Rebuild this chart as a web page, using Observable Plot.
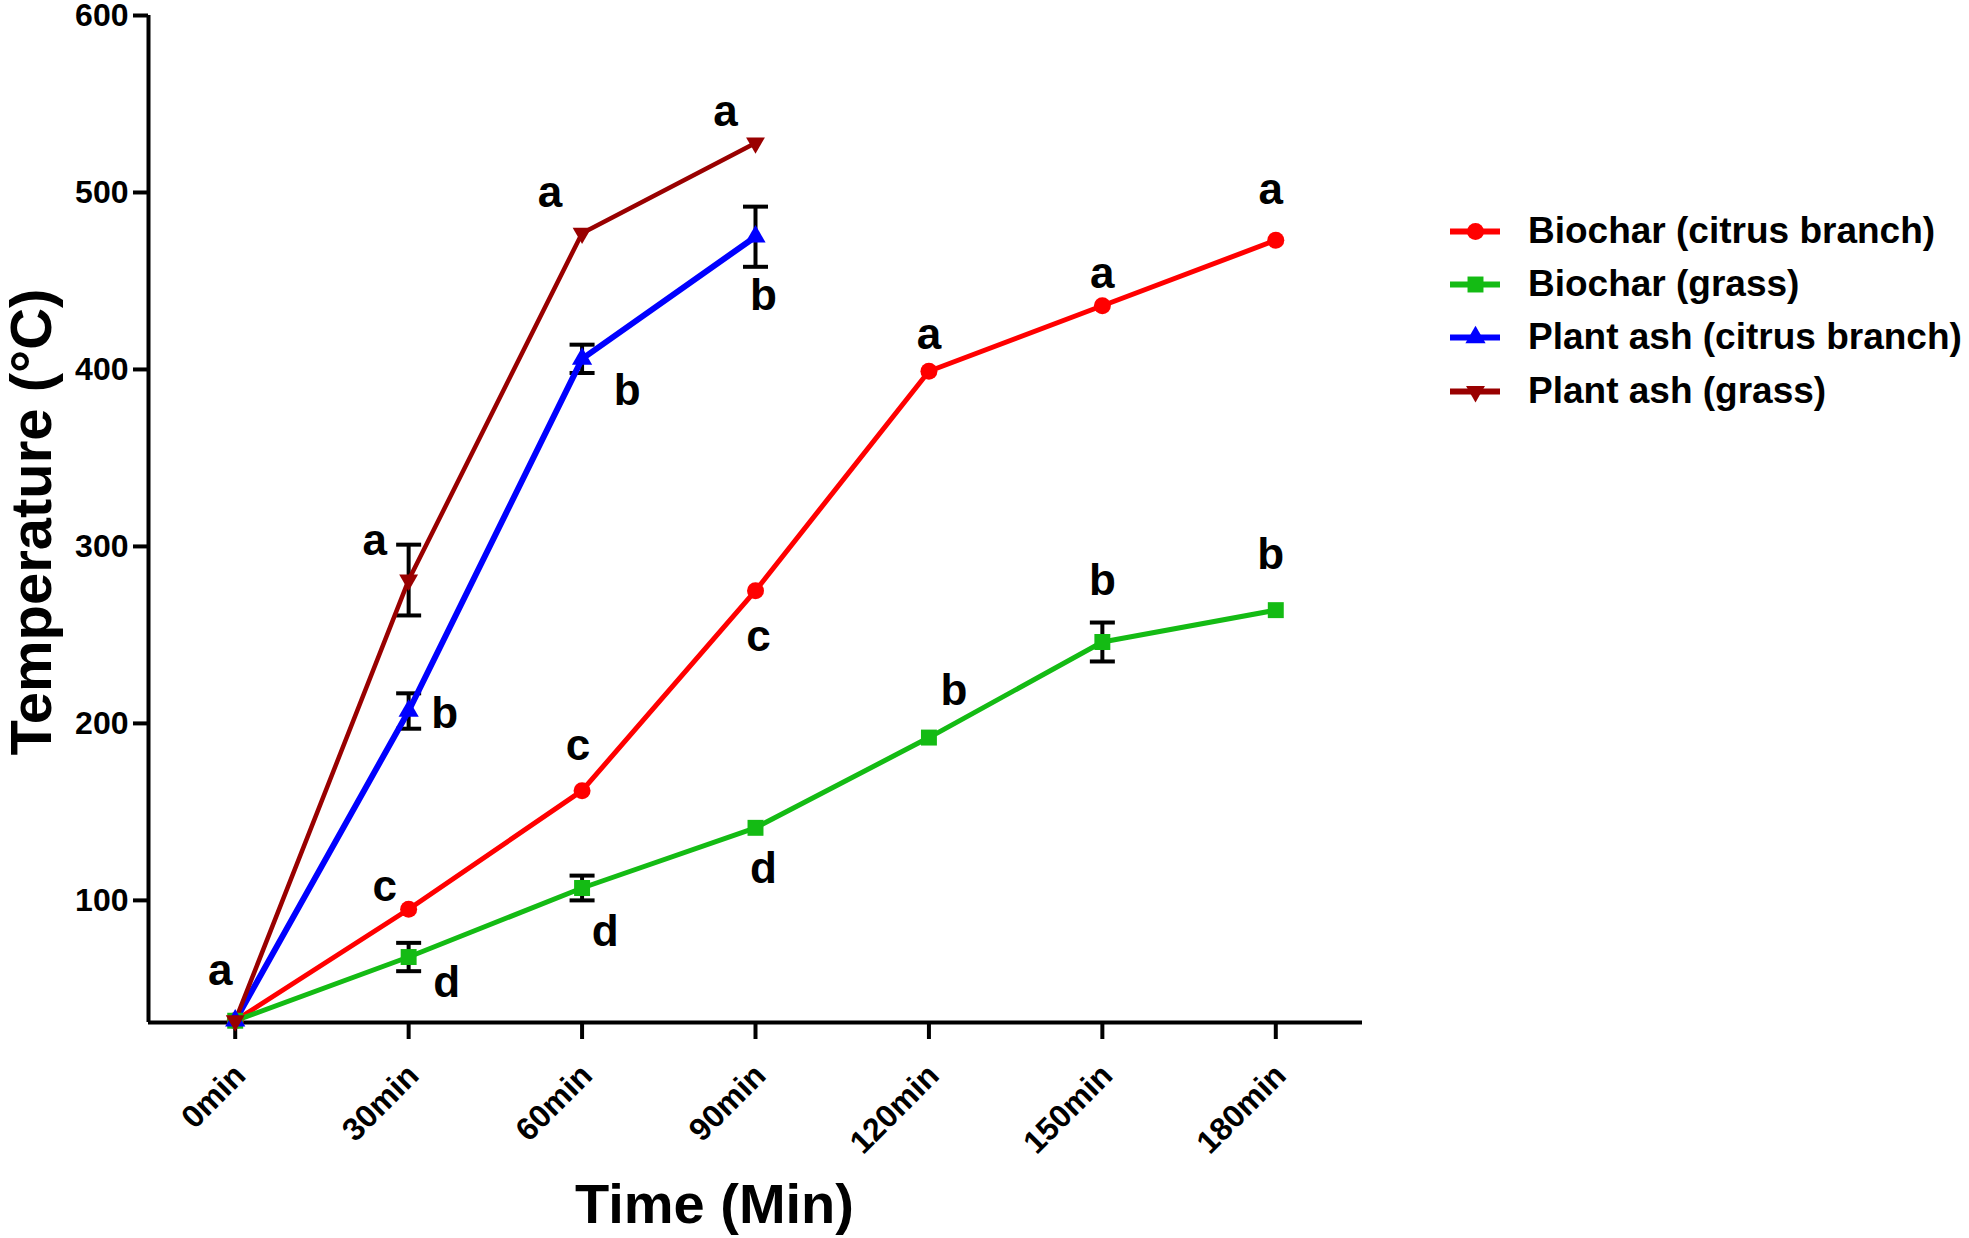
<!DOCTYPE html>
<html>
<head>
<meta charset="utf-8">
<script src="https://cdn.jsdelivr.net/npm/d3@7"></script>
<script src="https://cdn.jsdelivr.net/npm/@observablehq/plot@0.6"></script>
<style>
  body { margin: 0; background: #fff; font-family: "Liberation Sans", Arial, sans-serif; }
  #wrap { position: relative; width: 1969px; height: 1238px; }
  .leg { position: absolute; left: 1450px; height: 40px; display: flex; align-items: center;
         font-weight: bold; font-size: 37px; color: #000; white-space: nowrap; }
  .leg svg { margin-right: 28px; }
</style>
</head>
<body>
<div id="wrap"></div>
<script>
// ---------------- DATA ----------------
const times = [0, 30, 60, 90, 120, 150, 180];
const timeLabels = ["0min", "30min", "60min", "90min", "120min", "150min", "180min"];
const yTicks = [100, 200, 300, 400, 500, 600];
const seriesNames = ["Biochar (citrus branch)", "Biochar (grass)", "Plant ash (citrus branch)", "Plant ash (grass)"];

const biocharCitrus     = [32, 95, 162, 275, 399, 436, 473];
const biocharCitrusErr  = [0, 0, 0, 0, 0, 0, 0];
const biocharCitrusSig  = ["a", "c", "c", "c", "a", "a", "a"];

const biocharGrass      = [32, 68, 107, 141, 192, 246, 264];
const biocharGrassErr   = [0, 8, 7, 0, 0, 11, 0];
const biocharGrassSig   = ["", "d", "d", "d", "b", "b", "b"];

const ashCitrus         = [32, 207, 406, 475];
const ashCitrusErr      = [0, 10, 8, 17];
const ashCitrusSig      = ["", "b", "b", "b"];

const ashGrass          = [32, 281, 477, 528];
const ashGrassErr       = [0, 20, 0, 0];
const ashGrassSig       = ["", "a", "a", "a"];

const xDomain = [-15, 195];
const yDomain = [31, 600];

// ---------------- LAYOUT / STYLE ----------------
const colors = ["#ff0000", "#14bb14", "#0000ff", "#990000"];
const lineWidths = [5, 5, 6, 4.5];
const symbols = ["circle", "square", "triangle", "triangle"];
const symbolRotate = [0, 0, 0, 180];
const symbolR = [8.5, 9, 7.5, 7];
// letter offsets (px) relative to point, per series
const sigOffsets = [
  [[-15,-50],[-24,-22],[-4,-45],[3,46],[0,-36],[0,-32],[-5,-50]],
  [null,[38,26],[23,44],[8,41],[25,-47],[0,-61],[-5,-55]],
  [null,[36,3],[45,32],[8,59]],
  [null,[-34,-39],[-32,-40],[-30,-31]]
];

const seriesVals = [biocharCitrus, biocharGrass, ashCitrus, ashGrass];
const seriesErrs = [biocharCitrusErr, biocharGrassErr, ashCitrusErr, ashGrassErr];
const seriesSigs = [biocharCitrusSig, biocharGrassSig, ashCitrusSig, ashGrassSig];

const rows = seriesVals.map((vals, s) => vals.map((v, i) => ({
  s, series: seriesNames[s], t: times[i], v, err: seriesErrs[s][i], sig: seriesSigs[s][i], i
})));
const errRows = rows.flat().filter(d => d.err > 0);

const capSymbol = {
  draw(context, size) {
    const r = Math.sqrt(size / Math.PI);
    context.moveTo(-r, 0);
    context.lineTo(r, 0);
  }
};

const font = "Liberation Sans, Arial, sans-serif";

const marks = [
  // axes lines
  Plot.ruleX([xDomain[0]], {stroke: "black", strokeWidth: 4}),
  Plot.ruleY([yDomain[0]], {stroke: "black", strokeWidth: 4}),
  Plot.axisY({ticks: yTicks, tickSize: 15, tickPadding: 5, strokeWidth: 4, fontSize: 32, fontWeight: "bold", label: null}),
  Plot.axisX({ticks: times, tickSize: 17, strokeWidth: 4, tickFormat: () => "", label: null}),
  Plot.text(times, {x: d => d, text: (d, i) => timeLabels[i], frameAnchor: "bottom", rotate: -45,
    textAnchor: "end", lineAnchor: "bottom", dx: 12, dy: 55, fontSize: 32, fontWeight: "bold"}),
  // error bars
  Plot.ruleX(errRows, {x: "t", y1: d => d.v - d.err, y2: d => d.v + d.err, stroke: "black", strokeWidth: 4}),
  Plot.dot(errRows, {x: "t", y: d => d.v + d.err, symbol: capSymbol, r: 12.5, fill: "none", stroke: "black", strokeWidth: 4}),
  Plot.dot(errRows, {x: "t", y: d => d.v - d.err, symbol: capSymbol, r: 12.5, fill: "none", stroke: "black", strokeWidth: 4}),
];

rows.forEach((r, s) => {
  marks.push(Plot.line(r, {x: "t", y: "v", stroke: colors[s], strokeWidth: lineWidths[s]}));
});
rows.forEach((r, s) => {
  marks.push(Plot.dot(r, {x: "t", y: "v", symbol: symbols[s], r: symbolR[s], fill: colors[s], rotate: symbolRotate[s]}));
});
rows.forEach((r, s) => {
  r.forEach((d, i) => {
    if (!d.sig) return;
    const [dx, dy] = sigOffsets[s][i];
    marks.push(Plot.text([d], {x: "t", y: "v", text: "sig", dx, dy, fontSize: 44, fontWeight: "bold", fill: "black"}));
  });
});
// axis titles
marks.push(Plot.text(["Temperature (°C)"], {frameAnchor: "left", rotate: -90, textAnchor: "middle",
  lineAnchor: "bottom", dx: -98, dy: 3, fontSize: 58, fontWeight: "bold"}));
marks.push(Plot.text(["Time (Min)"], {frameAnchor: "bottom", textAnchor: "middle",
  lineAnchor: "bottom", dx: -41, dy: 200, fontSize: 56, fontWeight: "bold"}));

const chart = Plot.plot({
  width: 1969,
  height: 1238,
  marginLeft: 148,
  marginRight: 607,
  marginTop: 15,
  marginBottom: 216,
  style: {fontFamily: font, background: "white", color: "black", overflow: "visible"},
  x: {type: "linear", domain: xDomain},
  y: {type: "linear", domain: yDomain},
  marks
});
const wrap = document.getElementById("wrap");
wrap.appendChild(chart);

// ---------------- LEGEND ----------------
const legendRowY = [231, 284, 337, 391];
seriesNames.forEach((name, s) => {
  const div = document.createElement("div");
  div.className = "leg";
  div.style.top = (legendRowY[s] - 20) + "px";
  const sw = Plot.plot({
    width: 50, height: 40, margin: 0,
    x: {domain: [0, 1], range: [0, 50], axis: null},
    y: {domain: [0, 1], range: [40, 0], axis: null},
    style: {overflow: "visible", background: "transparent"},
    marks: [
      Plot.ruleY([0.5], {x1: 0, x2: 1, stroke: colors[s], strokeWidth: 6}),
      Plot.dot([0.5], {x: d => d, y: d => d, symbol: symbols[s], r: symbolR[s], fill: colors[s], rotate: symbolRotate[s]})
    ]
  });
  div.appendChild(sw);
  const span = document.createElement("span");
  span.textContent = name;
  div.appendChild(span);
  wrap.appendChild(div);
});
</script>
</body>
</html>
